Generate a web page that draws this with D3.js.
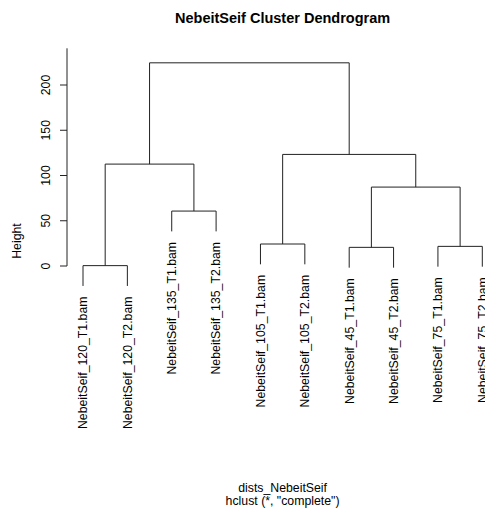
<!DOCTYPE html>
<html>
<head>
<meta charset="utf-8">
<script src="https://cdn.jsdelivr.net/npm/d3@7"></script>
<style>
  html, body { margin: 0; padding: 0; background: #fff; }
  svg { display: block; font-family: "Liberation Sans", Arial, Helvetica, sans-serif; }
</style>
</head>
<body>
<svg id="chart" width="485" height="510"></svg>
<script>
// Leaf labels in dendrogram order (left to right)
const leafLabels = [
  "NebeitSeif_120_T1.bam", "NebeitSeif_120_T2.bam",
  "NebeitSeif_135_T1.bam", "NebeitSeif_135_T2.bam",
  "NebeitSeif_105_T1.bam", "NebeitSeif_105_T2.bam",
  "NebeitSeif_45_T1.bam",  "NebeitSeif_45_T2.bam",
  "NebeitSeif_75_T1.bam",  "NebeitSeif_75_T2.bam"
];

// hclust-style merge table: negative = leaf (1-based), positive = earlier merge step
const mergeLeft   = [-1, -7, -9, -5, -3, 2, 1, 4, 7];
const mergeRight  = [-2, -8, -10, -6, -4, 3, 5, 6, 8];
const mergeHeight = [0.4, 20.6, 21.7, 24.3, 60.7, 87.2, 112.6, 123.3, 224.5];

// Axis ticks
const yTicks = [0, 50, 100, 150, 200];

const titleText = "NebeitSeif Cluster Dendrogram";
const yLabel = "Height";
const subLines = ["dists_NebeitSeif", "hclust (*, \"complete\")"];

const svg = d3.select("#chart");

const x = d3.scalePoint().domain(leafLabels).range([83, 482.3]);
const y = d3.scaleLinear().domain([0, 200]).range([266, 85]);
const yTopValue = y.invert(48.3);

const hang = 0.1 * d3.max(mergeHeight);

// Resolve positions of leaves and merge nodes
const nodeX = [], nodeH = [];
const leafEnd = new Array(leafLabels.length);
function childPos(id) {
  if (id < 0) return { x: x(leafLabels[-id - 1]), leaf: true };
  return { x: nodeX[id - 1], y: nodeH[id - 1], leaf: false };
}
const segs = [];
mergeHeight.forEach((h, i) => {
  const a = childPos(mergeLeft[i]);
  const b = childPos(mergeRight[i]);
  const ay = a.leaf ? h - hang : a.y;
  const by = b.leaf ? h - hang : b.y;
  nodeX.push((a.x + b.x) / 2);
  nodeH.push(h);
  segs.push({ x1: a.x, y1: ay, x2: b.x, y2: by, h });
  if (a.leaf) leafEnd[-mergeLeft[i] - 1] = h - hang;
  if (b.leaf) leafEnd[-mergeRight[i] - 1] = h - hang;
});

// Dendrogram branches
svg.append("g")
  .selectAll("path")
  .data(segs)
  .join("path")
  .attr("d", d => `M${d.x1},${y(d.y1)}V${y(d.h)}H${d.x2}V${y(d.y2)}`)
  .attr("fill", "none")
  .attr("stroke", "#222")
  .attr("stroke-width", 1);

// Leaf labels, rotated, hanging below each leaf end
svg.append("g")
  .selectAll("text")
  .data(leafLabels)
  .join("text")
  .attr("transform", (d, i) => `translate(${x(d)},${y(leafEnd[i]) + 10.5}) rotate(-90)`)
  .attr("text-anchor", "end")
  .attr("dy", "0.35em")
  .attr("font-size", "12.3px")
  .attr("fill", "#000")
  .text(d => d);

// Y axis
const axisG = svg.append("g").attr("transform", "translate(67,0)");
axisG.append("line")
  .attr("x1", 0).attr("x2", 0)
  .attr("y1", y(0)).attr("y2", y(yTopValue))
  .attr("stroke", "#222");
axisG.selectAll("line.tick")
  .data(yTicks)
  .join("line")
  .attr("class", "tick")
  .attr("x1", -7).attr("x2", 0)
  .attr("y1", d => y(d)).attr("y2", d => y(d))
  .attr("stroke", "#222");
axisG.selectAll("text.tick")
  .data(yTicks)
  .join("text")
  .attr("class", "tick")
  .attr("transform", d => `translate(-17.5,${y(d)}) rotate(-90)`)
  .attr("text-anchor", "middle")
  .attr("font-size", "12.3px")
  .text(d => d);

// Axis title
svg.append("text")
  .attr("transform", "translate(20.5,241) rotate(-90)")
  .attr("text-anchor", "middle")
  .attr("font-size", "12.3px")
  .text(yLabel);

// Main title
svg.append("text")
  .attr("x", 282.6).attr("y", 23)
  .attr("text-anchor", "middle")
  .attr("font-size", "14.5px")
  .attr("font-weight", "bold")
  .text(titleText);

// Sub titles
svg.append("g")
  .selectAll("text")
  .data(subLines)
  .join("text")
  .attr("x", 282.6)
  .attr("y", (d, i) => 492 + i * 12.5)
  .attr("text-anchor", "middle")
  .attr("font-size", "12.3px")
  .text(d => d);
</script>
</body>
</html>
